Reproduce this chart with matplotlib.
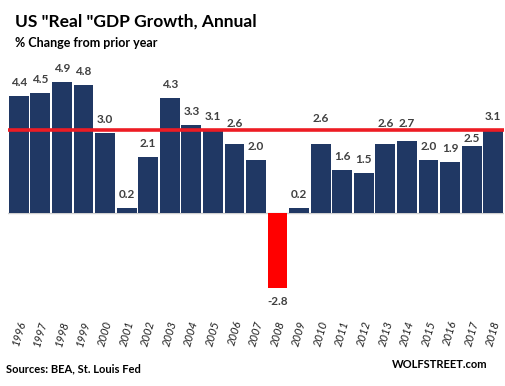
import matplotlib.pyplot as plt
import numpy as np

plt.rcParams['font.family'] = ['Lato', 'DejaVu Sans']

years = [str(y) for y in range(1996, 2019)]
growth = [4.4, 4.5, 4.9, 4.8, 3.0, 0.2, 2.1, 4.3, 3.3, 3.1, 2.6, 2.0,
          -2.8, 0.2, 2.6, 1.6, 1.5, 2.6, 2.7, 2.0, 1.9, 2.5, 3.1]
latest = growth[-1]

# extra lift for labels that would sit on the red line
nudge = {"2006": 0.25, "2010": 0.45, "2013": 0.25, "2014": 0.15, "2017": -0.22}

fig = plt.figure(figsize=(5.06, 3.86), dpi=100)
ax = fig.add_axes([8 / 506, 1 - 300 / 386, 496 / 506, 245 / 386])

x = np.arange(len(years))
colors = ["#FF0000" if v < 0 else "#203864" for v in growth]
ax.bar(x, growth, width=0.92, color=colors, zorder=2)
ax.axhline(0, color="#D0D0D0", linewidth=1, zorder=1)
ax.axhline(latest, color="#ED1C24", linewidth=2.6, zorder=3)

for xi, yr, v in zip(x, years, growth):
    if v >= 0:
        ax.text(xi, v + 0.3 + nudge.get(yr, 0), f"{v:.1f}", ha="center", va="bottom",
                fontsize=8.5, fontweight="bold", color="#404040", zorder=4)
    else:
        ax.text(xi, v - 0.3, f"{v:.1f}", ha="center", va="top",
                fontsize=8.5, fontweight="bold", color="#404040", zorder=4)

ax.set_xlim(-0.5, len(years) - 0.5)
ax.set_ylim(-3.26, 5.92)
ax.set_yticks([])
ax.set_xticks(x)
ax.set_xticklabels(years, rotation=74, fontsize=8, fontstyle="italic",
                   color="#202020")
ax.tick_params(axis="x", length=0, pad=14)
for s in ax.spines.values():
    s.set_visible(False)

fig.text(15 / 506, 1 - 27 / 386, 'US "Real "GDP Growth, Annual', fontsize=12.5,
         fontweight="bold", color="black", va="baseline")
fig.text(15 / 506, 1 - 47 / 386, "% Change from prior year", fontsize=9,
         fontweight="bold", color="black", va="baseline")
fig.text(6 / 506, 1 - 372 / 386, "Sources: BEA, St. Louis Fed", fontsize=8,
         fontweight="bold", color="black", va="baseline")
fig.text(488 / 506, 1 - 368 / 386, "WOLFSTREET.com", fontsize=8,
         fontweight="bold", color="black", va="baseline", ha="right")

fig.savefig("out.png", dpi=100)
